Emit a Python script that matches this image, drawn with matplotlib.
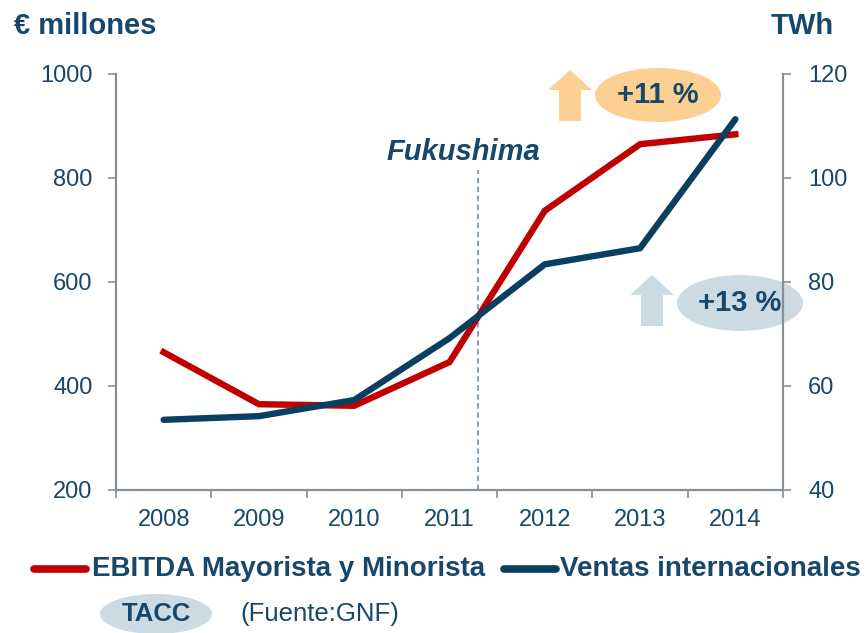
import matplotlib
matplotlib.use("Agg")
import matplotlib.pyplot as plt
from matplotlib.patches import Ellipse, Polygon
from matplotlib.lines import Line2D

years = [2008, 2009, 2010, 2011, 2012, 2013, 2014]
ebitda = [465, 365, 362, 446, 737, 865, 884]      # € millones (left axis)
ventas = [53.5, 54.2, 57.3, 69.2, 83.4, 86.5, 111.3]  # TWh (right axis)
fukushima_x = 2011.3

RED = "#C00000"
NAVY = "#0B3F61"
TXT = "#17476B"
GRAY = "#868E98"

plt.rcParams["font.family"] = ["Liberation Sans", "DejaVu Sans"]

W, H = 867, 633
fig = plt.figure(figsize=(W / 100, H / 100), dpi=100)


def px(x, y):
    return (x / W, 1 - y / H)


l, b = px(116, 490)
r, t = px(783, 74)
ax = fig.add_axes([l, b, r - l, t - b])
ax.set_facecolor("none")
ax2 = ax.twinx()

ax.plot(years, ebitda, color=RED, lw=4.6, solid_joinstyle="miter", zorder=3)
ax2.plot(years, ventas, color=NAVY, lw=4.6, solid_capstyle="round", zorder=3)

ax.set_xlim(2007.5, 2014.5)
ax.set_ylim(200, 1000)
ax2.set_ylim(40, 120)
ax.set_yticks([200, 400, 600, 800, 1000])
ax2.set_yticks([40, 60, 80, 100, 120])
ax.set_xticks(years)
ax.set_xticks([y + 0.5 for y in [2007] + years], minor=True)
ax.tick_params(axis="x", which="major", length=0, pad=14, labelsize=17, labelcolor=TXT)
ax.tick_params(axis="x", which="minor", length=6, width=1.2, color=GRAY, direction="out")
ax.tick_params(axis="y", length=6, width=1.2, color=GRAY, pad=11, labelsize=17, labelcolor=TXT)
ax2.tick_params(axis="y", length=6, width=1.2, color=GRAY, pad=12, labelsize=17, labelcolor=TXT)

for a in (ax, ax2):
    a.spines["top"].set_visible(False)
    for s in ("left", "right", "bottom"):
        a.spines[s].set_color(GRAY)
        a.spines[s].set_linewidth(1.5)

ax.plot([fukushima_x, fukushima_x], [200, 815], ls=(0, (3, 2)), color="#7F9AB0", lw=1.3, zorder=2)
ax.text(fukushima_x - 0.15, 850, "Fukushima", ha="center", va="center", fontsize=21,
        fontweight="bold", fontstyle="italic", color=TXT)

fig.text(14 / W, 1 - 26 / H, "€ millones", fontsize=21, fontweight="bold", color=TXT, va="center")
fig.text(834 / W, 1 - 26 / H, "TWh", fontsize=21, fontweight="bold", color=TXT, va="center", ha="right")


# growth badges
def badge(ax0, ay0, acolor, ex, ey, ew, eh, label):
    s = 11
    pts = [(ax0 - s, ay0 + 51), (ax0 - s, ay0 + 20), (ax0 - 22, ay0 + 20), (ax0, ay0),
           (ax0 + 22, ay0 + 20), (ax0 + s, ay0 + 20), (ax0 + s, ay0 + 51)]
    fig.add_artist(Polygon([px(*p) for p in pts], closed=True, transform=fig.transFigure,
                           facecolor=acolor, edgecolor="none", zorder=-1))
    cx, cy = px(ex, ey)
    fig.add_artist(Ellipse((cx, cy), ew / W, eh / H, transform=fig.transFigure,
                           facecolor=acolor, edgecolor="none", zorder=-1))
    fig.text(cx, cy, label, ha="center", va="center", fontsize=21, fontweight="bold", color=TXT)

badge(570, 70, "#FCD092", 658, 95, 126, 54, "+11 %")
badge(652, 275, "#CCDAE3", 740, 303, 126, 56, "+13 %")

# legend
ly = 1 - 569 / H
fig.add_artist(Line2D([34 / W, 86 / W], [ly, ly], transform=fig.transFigure, color=RED,
                      lw=5.5, solid_capstyle="round"))
fig.text(92 / W, ly, "EBITDA Mayorista y Minorista", fontsize=20,
         fontweight="bold", color=TXT, va="center")
fig.add_artist(Line2D([504 / W, 556 / W], [ly, ly], transform=fig.transFigure, color=NAVY,
                      lw=5.5, solid_capstyle="round"))
fig.text(560 / W, ly, "Ventas internacionales", fontsize=20,
         fontweight="bold", color=TXT, va="center")

tx, ty = px(156, 614)
fig.add_artist(Ellipse((tx, ty), 112 / W, 40 / H, transform=fig.transFigure,
                       facecolor="#CCDAE3", edgecolor="none", zorder=-1))
fig.text(tx, ty, "TACC", fontsize=18.5, fontweight="bold", color=TXT,
         ha="center", va="center")
fig.text(240 / W, ty, "(Fuente:GNF)", fontsize=18.5, color=TXT, va="center")

fig.savefig("out.png", dpi=100)
